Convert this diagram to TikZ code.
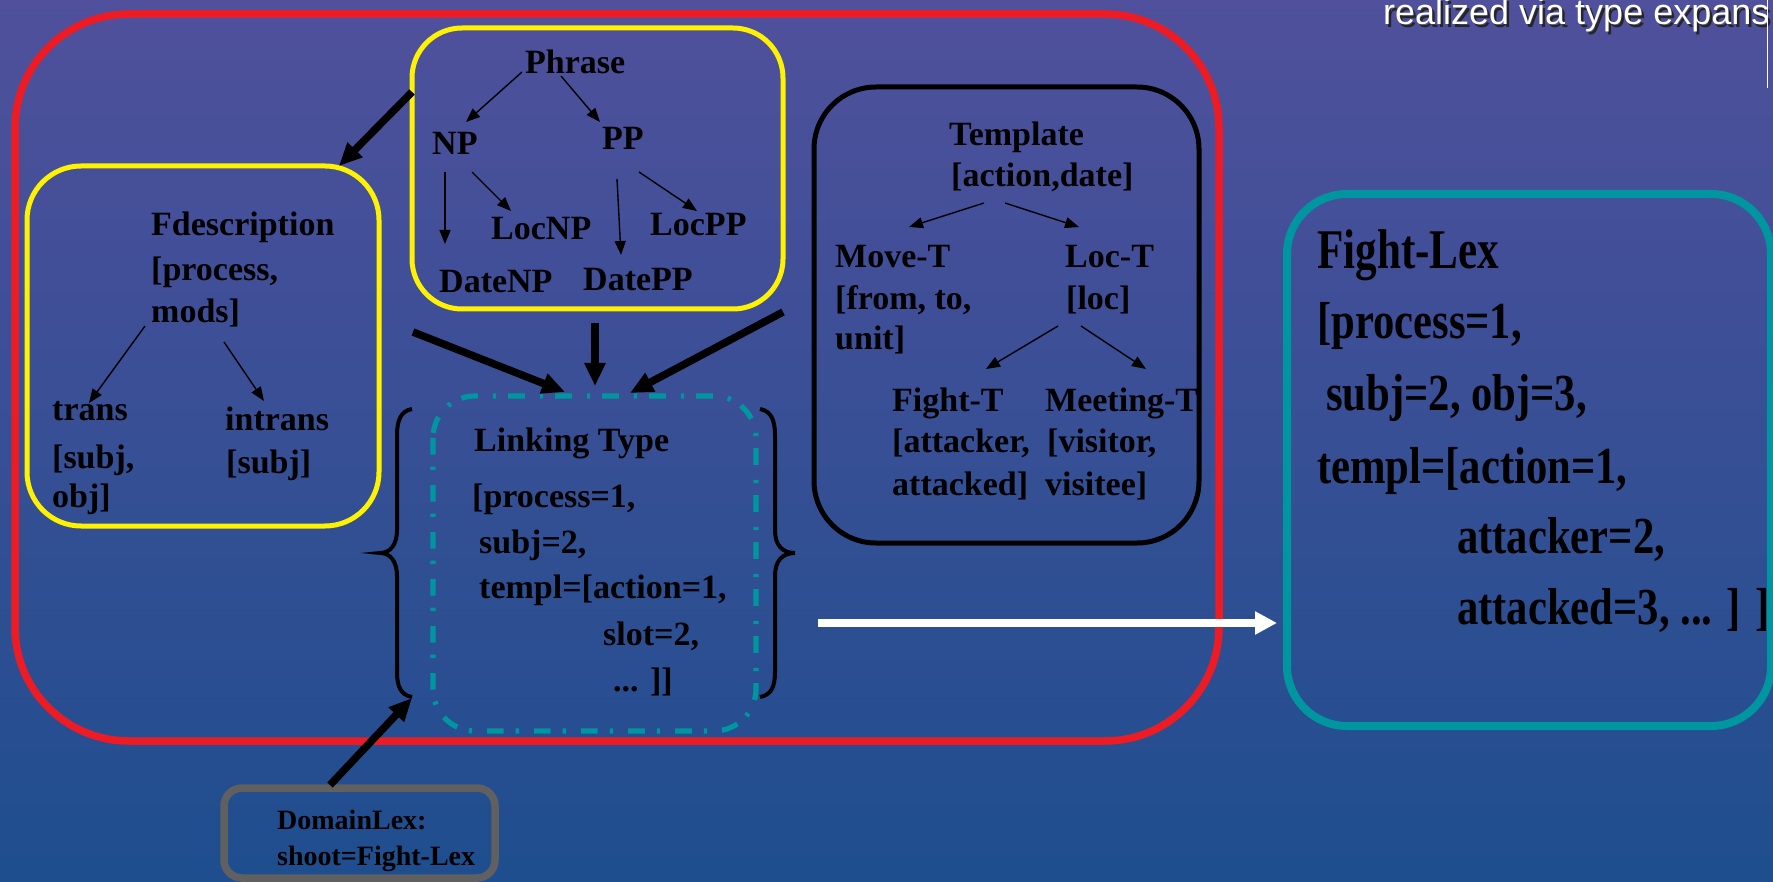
\documentclass[tikz,border=0pt]{standalone}
\usepackage{fontspec}
\usepackage{graphicx}
\setmainfont{Liberation Serif}
\newfontfamily\sansfnt{Liberation Sans}
\usetikzlibrary{arrows.meta}
\definecolor{bgtop}{RGB}{80,80,156}
\definecolor{bgbot}{RGB}{30,78,142}
\definecolor{redline}{RGB}{237,28,36}
\definecolor{yel}{RGB}{255,242,0}
\definecolor{tealc}{RGB}{0,150,160}
\definecolor{grayc}{RGB}{96,96,96}
\begin{document}
\begin{tikzpicture}[x=1pt,y=-1pt,
  lbl/.style={anchor=base west,inner sep=0pt,font=\fontsize{34}{40}\selectfont\bfseries},
  lblsmall/.style={anchor=base west,inner sep=0pt,font=\fontsize{28}{32}\selectfont\bfseries},
  lblbig/.style={anchor=base west,inner sep=0pt,font=\fontsize{52}{60}\selectfont\bfseries},
  lbltitle/.style={anchor=base west,inner sep=0pt,font=\fontsize{56}{64}\selectfont\bfseries},
  thin/.style={line width=1.4pt,-{Triangle[length=14pt,width=11pt]}},
  thick/.style={line width=7.5pt,-{Triangle[length=23pt,width=20pt]}},
  redbox/.style={draw=redline,line width=7.5pt,rounded corners=114pt},
  yelbox/.style={draw=yel,line width=5pt},
]
\useasboundingbox (0,0) rectangle (1773,882);
\shade[top color=bgtop,bottom color=bgbot] (0,0) rectangle (1773,882);

% boxes
\draw[redbox] (15,14) rectangle (1219,741);
\draw[yelbox,rounded corners=50pt] (412,28) rectangle (783,309);
\draw[yelbox,rounded corners=54pt] (27,166) rectangle (379,526);
\draw[black,line width=5pt,rounded corners=62pt] (814,87) rectangle (1199,543);
\draw[tealc,line width=8pt,rounded corners=60pt] (1287,194) rectangle (1771,726);
\draw[tealc,line width=5.2pt,rounded corners=42pt,dash pattern=on 16.7pt off 12pt on 3.3pt off 15pt] (433,396) rectangle (756,731);
\draw[grayc,line width=7.5pt,rounded corners=18pt] (224,788) rectangle (495,878);

% braces
\draw[black,line width=4pt] (412,409) .. controls (401,411) and (397,420) .. (397,435) -- (397,530)
  .. controls (397,545) and (390,553) .. (380,553) .. controls (390,553) and (397,561) .. (397,576)
  -- (397,672) .. controls (397,687) and (401,695) .. (412,697);
\draw[black,line width=4pt] (760,409) .. controls (771,411) and (775,420) .. (775,435) -- (775,530)
  .. controls (775,545) and (782,553) .. (795,553) .. controls (782,553) and (775,561) .. (775,576)
  -- (775,672) .. controls (775,687) and (771,695) .. (760,697);

% Phrase tree
\node[lbl] (phrase) at (525,74) {Phrase};
\node[lbl] (np) at (432,155) {NP};
\node[lbl] (pp) at (602,150) {PP};
\node[lbl] (locnp) at (491,240) {LocNP};
\node[lbl] (locpp) at (650,236) {LocPP};
\node[lbl] (datenp) at (439,293) {DateNP};
\node[lbl] (datepp) at (583,291) {DatePP};

% Fdescription
\node[lbl] (fdesc) at (151,236) {Fdescription};
\node[lbl] (fdesc2) at (151,281) {[process,};
\node[lbl] (fdesc3) at (151,323) {mods]};
\node[lbl] (trans) at (52,421) {trans};
\node[lbl] (trans2) at (52,468) {[subj,};
\node[lbl] (trans3) at (52,507) {obj]};
\node[lbl] (intrans) at (225,431) {intrans};
\node[lbl] (intrans2) at (226,473) {[subj]};

% Linking type
\node[lbl] (link) at (474,452) {Linking Type};
\node[lbl] (link2) at (472,507) {[process=1,};
\node[lbl] (link3) at (479,553) {subj=2,};
\node[lbl] (link4) at (479,598) {templ=[action=1,};
\node[lbl] (link5) at (603,645) {slot=2,};
\node[lbl] (link6) at (613,691) {... ]]};

% Template tree
\node[lbl] (templ) at (949,146) {Template};
\node[lbl] (templ2) at (951,187) {[action,date]};
\node[lbl] (move) at (835,268) {Move-T};
\node[lbl] (move2) at (835,310) {[from, to,};
\node[lbl] (move3) at (835,350) {unit]};
\node[lbl] (loc) at (1065,268) {Loc-T};
\node[lbl] (loc2) at (1066,310) {[loc]};
\node[lbl] (fight) at (892,412) {Fight-T};
\node[lbl] (fight2) at (892,453) {[attacker,};
\node[lbl] (fight3) at (892,495) {attacked]};
\node[lbl] (meet) at (1045,412) {Meeting-T};
\node[lbl] (meet2) at (1047,453) {[visitor,};
\node[lbl] (meet3) at (1045,495) {visitee]};

% Fight-Lex
\node[lbltitle] (flex) at (1317,269) {\scalebox{0.77}[1]{Fight-Lex}};
\node[lblbig] (flex2) at (1317,339) {\scalebox{0.82}[1]{[process=1,}};
\node[lblbig] (flex3) at (1326,411) {\scalebox{0.82}[1]{subj=2, obj=3,}};
\node[lblbig] (flex4) at (1317,483) {\scalebox{0.82}[1]{templ=[action=1,}};
\node[lblbig] (flex5) at (1457,553) {\scalebox{0.82}[1]{attacker=2,}};
\node[lblbig] (flex6) at (1457,624) {\scalebox{0.82}[1]{attacked=3, ... ] ]}};

% DomainLex
\node[lblsmall] (dlex) at (277,829) {DomainLex:};
\node[lblsmall] (dlex2) at (277,865) {shoot=Fight-Lex};

% top right caption
\node[anchor=base west,inner sep=0pt,font=\fontsize{36}{40}\selectfont\sansfnt,text=black!85] (capsh) at (1385.5,27.5) {realized via type expans};
\node[anchor=base west,inner sep=0pt,font=\fontsize{36}{40}\selectfont\sansfnt,text=white] (cap) at (1383,25) {realized via type expans};
\coordinate (vl1) at (1767,0);
\coordinate (vl2) at (1767,88);
\draw[white,line width=1pt] (vl1) -- (vl2);

% thin arrows coordinates
\coordinate (a1s) at (522,72); \coordinate (a1e) at (466,122);
\coordinate (a2s) at (561,76); \coordinate (a2e) at (600,122);
\coordinate (a3s) at (445,172); \coordinate (a3e) at (445,244);
\coordinate (a4s) at (472,172); \coordinate (a4e) at (511,211);
\coordinate (a5s) at (617,179); \coordinate (a5e) at (621,255);
\coordinate (a6s) at (639,172); \coordinate (a6e) at (697,211);
\coordinate (a7s) at (145,326); \coordinate (a7e) at (89,403);
\coordinate (a8s) at (224,342); \coordinate (a8e) at (264,401);
\coordinate (a9s) at (984,203); \coordinate (a9e) at (909,227);
\coordinate (a10s) at (1005,203); \coordinate (a10e) at (1079,227);
\coordinate (a11s) at (1058,326); \coordinate (a11e) at (986,369);
\coordinate (a12s) at (1081,326); \coordinate (a12e) at (1146,369);
\foreach \i in {1,...,12} {\draw[thin] (a\i s) -- (a\i e);}

% thick arrows
\coordinate (b1s) at (412,92); \coordinate (b1e) at (339,166);
\coordinate (b2s) at (413,332); \coordinate (b2e) at (565,392);
\coordinate (b3s) at (595,323); \coordinate (b3e) at (595,386);
\coordinate (b4s) at (783,312); \coordinate (b4e) at (630,393);
\coordinate (b5s) at (330,785); \coordinate (b5e) at (412,698);
\foreach \i in {1,...,5} {\draw[thick] (b\i s) -- (b\i e);}

% white arrow
\coordinate (ws) at (818,623); \coordinate (we) at (1277,623);
\draw[white,line width=8pt,-{Triangle[length=22pt,width=22pt]}] (ws) -- (we);
\end{tikzpicture}
\end{document}
